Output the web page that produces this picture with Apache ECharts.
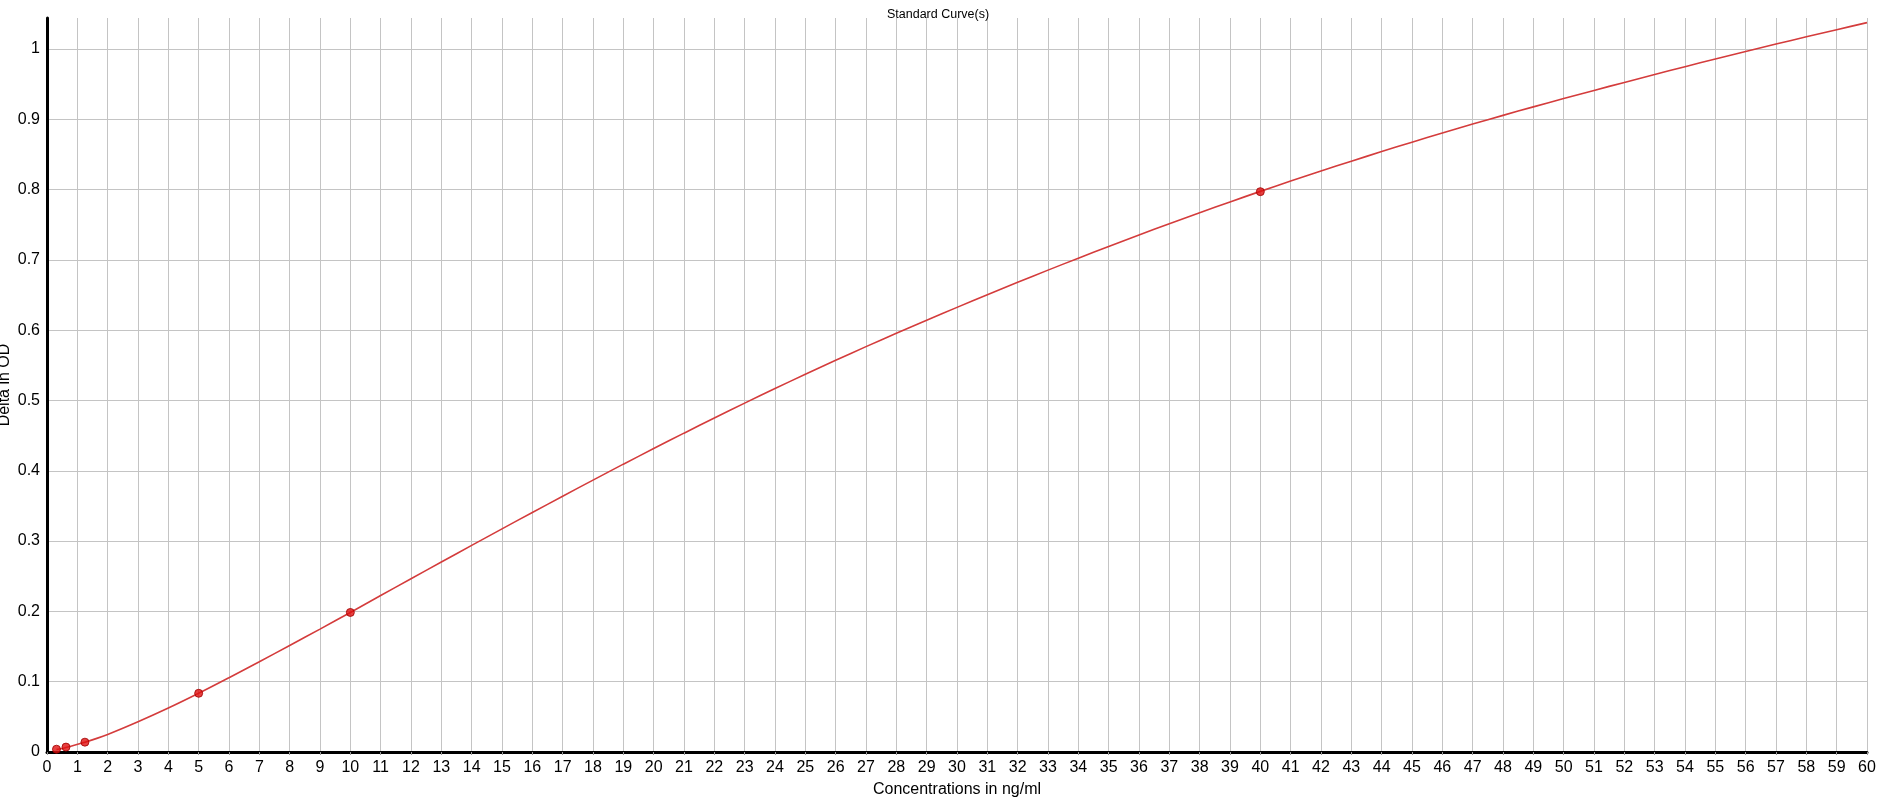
<!DOCTYPE html>
<html>
<head>
    <meta charset="utf-8">
    <title>Standard Curve(s)</title>
    <script src="https://cdn.jsdelivr.net/npm/echarts@6/dist/echarts.min.js"></script>
    <style>
        html, body { margin: 0; padding: 0; background: #fff; }
    </style>
</head>
<body>
<div id="main" style="width: 1891px;height:799px;"></div>
<script type="text/javascript">
    // standards (concentration, delta OD)
    var stdConc = [0.3125, 0.625, 1.25, 5, 10, 40];
    var stdOD = [0.004, 0.007, 0.014, 0.0835, 0.1985, 0.797];

    // fitted curve
    var curveConc = [0.3125, 0.625, 1.25, 2, 3, 4, 5, 6, 7, 8, 9, 10,
        11, 12, 13, 14, 15, 16, 17, 18, 19, 20,
        21, 22, 23, 24, 25, 26, 27, 28, 29, 30,
        31, 32, 33, 34, 35, 36, 37, 38, 39, 40,
        41, 42, 43, 44, 45, 46, 47, 48, 49, 50,
        51, 52, 53, 54, 55, 56, 57, 58, 59, 60];
    var curveOD = [0.0035, 0.0065, 0.014, 0.025, 0.043, 0.0625, 0.0835, 0.1057, 0.1284, 0.1515, 0.1748, 0.1985,
        0.2225, 0.2464, 0.2702, 0.2939, 0.3174, 0.3407, 0.3638, 0.3867, 0.4094, 0.4316,
        0.4535, 0.4750, 0.4962, 0.5170, 0.5373, 0.5572, 0.5766, 0.5956, 0.6142, 0.6324,
        0.6504, 0.6681, 0.6854, 0.7024, 0.7191, 0.7354, 0.7514, 0.7671, 0.7824, 0.7974,
        0.8120, 0.8263, 0.8403, 0.8540, 0.8674, 0.8804, 0.8931, 0.9055, 0.9176, 0.9294,
        0.9410, 0.9524, 0.9637, 0.9748, 0.9857, 0.9964, 1.0069, 1.0172, 1.0274, 1.0374];

    var chartDom = document.getElementById('main');
    var myChart = echarts.init(chartDom);

    var font = 'Liberation Sans, Arial, sans-serif';

    var option = {
        animation: false,
        backgroundColor: '#fff',
        title: {
            text: 'Standard Curve(s)',
            left: 882,
            top: 3,
            textStyle: {
                fontFamily: font,
                fontSize: 12.5,
                fontWeight: 'normal',
                color: '#000'
            }
        },
        grid: {
            left: 47,
            right: 24,
            top: 18,
            bottom: 47,
            containLabel: false,
            outerBoundsMode: 'none'
        },
        xAxis: {
            type: 'value',
            min: 0,
            max: 60,
            interval: 1,
            name: 'Concentrations in ng/ml',
            nameLocation: 'middle',
            nameGap: 30,
            nameMoveOverlap: false,
            nameTextStyle: {
                fontFamily: font,
                fontSize: 16,
                color: '#000'
            },
            axisLine: {
                onZero: false,
                lineStyle: { color: '#000', width: 3 }
            },
            axisTick: {
                show: true,
                length: 3,
                lineStyle: { color: '#999' }
            },
            axisLabel: {
                margin: 8,
                fontFamily: font,
                fontSize: 16,
                color: '#000'
            },
            splitLine: {
                show: true,
                lineStyle: { color: '#c4c4c4', width: 1 }
            }
        },
        yAxis: {
            type: 'value',
            min: 0,
            max: 1.044,
            interval: 0.1,
            name: 'Delta in OD',
            nameLocation: 'middle',
            nameGap: 34,
            nameMoveOverlap: false,
            nameTextStyle: {
                fontFamily: font,
                fontSize: 16,
                color: '#000'
            },
            axisLine: {
                show: true,
                lineStyle: { color: '#000', width: 3 }
            },
            axisTick: { show: false },
            axisLabel: {
                margin: 7,
                fontFamily: font,
                fontSize: 16,
                color: '#000',
                showMaxLabel: false
            },
            splitLine: {
                show: true,
                showMaxLine: false,
                lineStyle: { color: '#c4c4c4', width: 1 }
            }
        },
        series: [{
            name: 'curve',
            type: 'line',
            data: curveConc.map(function (c, i) {
                return [c, curveOD[i]];
            }),
            smooth: 0.3,
            showSymbol: false,
            symbol: 'none',
            lineStyle: {
                color: '#d43c3c',
                width: 1.6
            },
            z: 3
        },
            {
                name: 'standards',
                type: 'scatter',
                data: stdConc.map(function (c, i) {
                    return [c, stdOD[i]];
                }),
                symbolSize: 8,
                itemStyle: {
                    color: '#e01010',
                    borderColor: '#a00000',
                    borderWidth: 1
                },
                z: 4
            }]
    };
    if (option && typeof option === 'object') {
        myChart.setOption(option);
    }
</script>
</body>
</html>
